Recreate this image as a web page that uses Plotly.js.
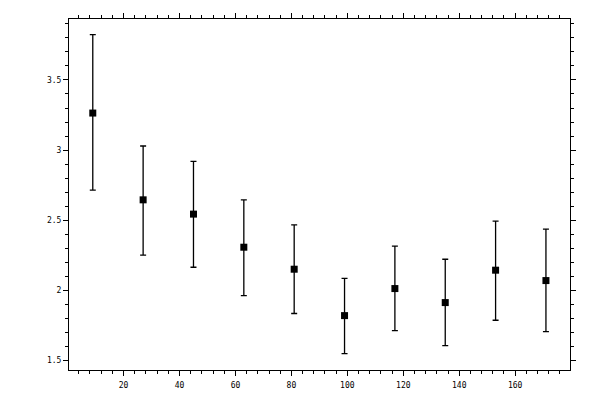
<!DOCTYPE html>
<html>
<head>
<meta charset="utf-8">
<script src="https://cdn.plot.ly/plotly-3.0.1.min.js"></script>
<style>html,body{margin:0;padding:0;background:#fff;}#chart{width:600px;height:400px;}</style>
</head>
<body>
<div id="chart"></div>
<script>
// Data
var xValues = [9, 27, 45, 63, 81, 99, 117, 135, 153, 171];
var yValues = [3.264, 2.645, 2.543, 2.307, 2.150, 1.819, 2.012, 1.912, 2.143, 2.069];
var yUpper  = [3.824, 3.029, 2.919, 2.645, 2.466, 2.084, 2.314, 2.221, 2.493, 2.436];
var yLower  = [2.714, 2.250, 2.164, 1.962, 1.834, 1.548, 1.712, 1.605, 1.786, 1.705];

var errPlus = yValues.map(function(v, i){ return yUpper[i] - v; });
var errMinus = yValues.map(function(v, i){ return v - yLower[i]; });

var trace = {
  x: xValues,
  y: yValues,
  type: 'scatter',
  mode: 'markers',
  marker: {symbol: 'square', size: 7, color: '#000'},
  error_y: {
    type: 'data', symmetric: false,
    array: errPlus, arrayminus: errMinus,
    color: '#000', thickness: 1.3, width: 3
  },
  hoverinfo: 'none',
  showlegend: false
};

var tickFont = {family: 'DejaVu Sans Mono', size: 8, color: '#000'};

var layout = {
  width: 600, height: 400,
  margin: {l: 69, r: 30, t: 19, b: 30},
  paper_bgcolor: '#fff', plot_bgcolor: '#fff',
  showlegend: false,
  xaxis: {
    range: [0.5, 179.6],
    tickmode: 'linear', tick0: 0, dtick: 20,
    ticks: 'outside', ticklen: 5, tickwidth: 1, tickcolor: '#000',
    minor: {dtick: 4, tick0: 0, ticks: 'outside', ticklen: 3, tickwidth: 1, tickcolor: '#000', showgrid: false},
    showline: true, linecolor: '#000', linewidth: 1, mirror: 'allticks',
    showgrid: false, zeroline: false,
    tickfont: tickFont,
    ticklabelstandoff: 2,
    tickvals: [20, 40, 60, 80, 100, 120, 140, 160]
  },
  yaxis: {
    range: [1.431, 3.935],
    tickmode: 'linear', tick0: 1.5, dtick: 0.5,
    ticks: 'outside', ticklen: 5, tickwidth: 1, tickcolor: '#000',
    minor: {dtick: 0.1, tick0: 1.5, ticks: 'outside', ticklen: 3, tickwidth: 1, tickcolor: '#000', showgrid: false},
    showline: true, linecolor: '#000', linewidth: 1, mirror: 'allticks',
    showgrid: false, zeroline: false,
    tickfont: tickFont
  }
};

Plotly.newPlot('chart', [trace], layout, {staticPlot: true, displayModeBar: false});
</script>
</body>
</html>
